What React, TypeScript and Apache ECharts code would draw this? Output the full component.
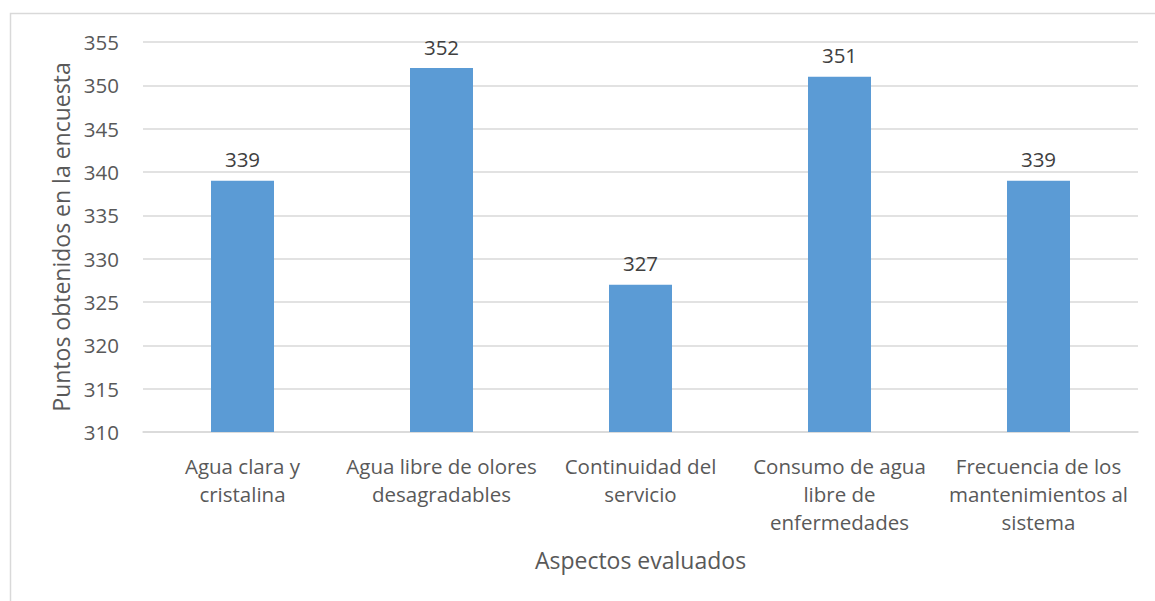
import React, { useEffect, useRef } from "react";
import * as echarts from "echarts";

const categories = [
  "Agua clara y\ncristalina",
  "Agua libre de olores\ndesagradables",
  "Continuidad del\nservicio",
  "Consumo de agua\nlibre de\nenfermedades",
  "Frecuencia de los\nmantenimientos al\nsistema",
];
const puntos = [339, 352, 327, 351, 339];

const FONT = "'Open Sans', 'Noto Sans', sans-serif";

export default function App() {
  const ref = useRef<HTMLDivElement>(null);
  useEffect(() => {
    if (!ref.current) return;
    const chart = echarts.init(ref.current, null, { renderer: "svg" });
    chart.setOption({
      animation: false,
      backgroundColor: "#ffffff",
      textStyle: { fontFamily: FONT },
      graphic: [
        {
          type: "polyline",
          shape: { points: [[10.5, 601], [10.5, 13.5], [1155, 13.5]] },
          style: { stroke: "#d9d9d9", fill: "none", lineWidth: 1.5 },
        },
      ],
      grid: { left: 143, right: 17, top: 42, bottom: 169, containLabel: false },
      xAxis: {
        type: "category",
        data: categories,
        name: "Aspectos evaluados",
        nameLocation: "middle",
        nameGap: 116,
        nameTextStyle: { fontSize: 23, color: "#595959", fontFamily: FONT },
        axisLine: { lineStyle: { color: "#d9d9d9", width: 1.5 } },
        axisTick: { show: false },
        axisLabel: {
          interval: 0,
          fontSize: 20.5,
          lineHeight: 28,
          color: "#595959",
          margin: 20,
          fontFamily: FONT,
        },
      },
      yAxis: {
        type: "value",
        min: 310,
        max: 355,
        interval: 5,
        name: "Puntos obtenidos en la encuesta",
        nameLocation: "middle",
        nameGap: 70,
        nameTextStyle: { fontSize: 23, color: "#595959", fontFamily: FONT },
        axisLine: { show: false },
        axisTick: { show: false },
        axisLabel: { fontSize: 20.5, color: "#595959", margin: 24, fontFamily: FONT },
        splitLine: { lineStyle: { color: "#d9d9d9", width: 1.5 } },
      },
      series: [
        {
          type: "bar",
          data: puntos,
          barWidth: 63,
          itemStyle: { color: "#5b9bd5" },
          label: {
            show: true,
            position: "top",
            distance: 11,
            fontSize: 20.5,
            color: "#404040",
            fontFamily: FONT,
          },
        },
      ],
    });
    return () => chart.dispose();
  }, []);
  return (
    <div
      ref={ref}
      style={{ position: "fixed", left: 0, top: 0, width: 1155, height: 601 }}
    />
  );
}
